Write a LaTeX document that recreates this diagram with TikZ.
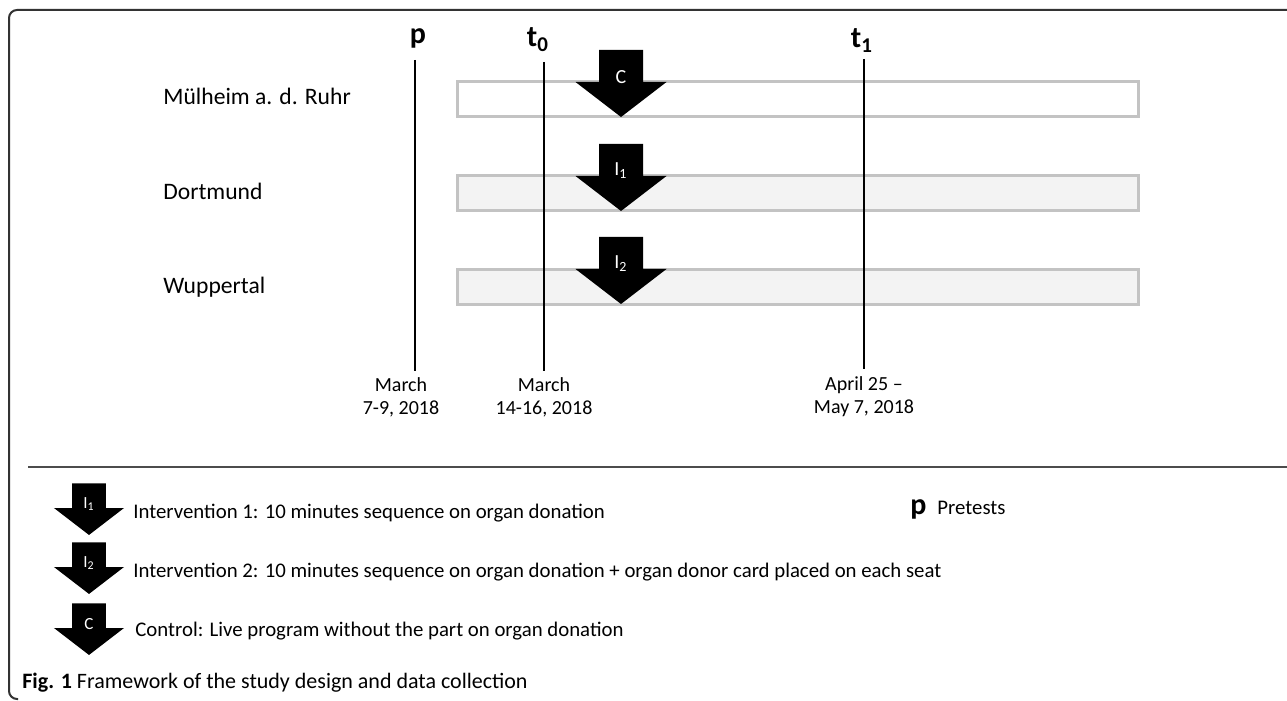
\documentclass[tikz,border=0pt]{standalone}
\usepackage{fontspec}
\setmainfont{Carlito}
\usepackage{xcolor}
\usepackage{tikz}
\usetikzlibrary{positioning}

\definecolor{barline}{HTML}{C3C3C3}
\definecolor{barfill}{HTML}{F3F3F3}
\definecolor{frameline}{HTML}{333333}

\begin{document}
\begin{tikzpicture}[x=0.5pt, y=-0.5pt,
  town/.style={anchor=base west, inner sep=0pt, font=\fontsize{11.8}{14}\selectfont},
  bar/.style={draw=barline, line width=1.5pt, minimum width=340.5pt,
    minimum height=17.5pt, inner sep=0pt},
  tick/.style={line width=0.6pt},
  tlbl/.style={anchor=base, inner sep=0pt, font=\fontsize{15}{18}\selectfont\bfseries},
  date/.style={align=center, inner sep=0pt, font=\fontsize{10}{11.5}\selectfont},
  arrlbl/.style={text=white, inner sep=0pt},
  legtxt/.style={anchor=base west, inner sep=0pt, font=\fontsize{10.4}{12}\selectfont},
  blockarr/.pic={
    \fill (-22,-32) -- (22,-32) -- (22,0) -- (45.5,0) -- (0,35) -- (-45.5,0) -- (-22,0) -- cycle;
    \node[arrlbl] (-lbl) at (0,-5) {\tikzpictext};
  }
]
\useasboundingbox (0,0) rectangle (1287,701);
% Frame
\draw[frameline, line width=1pt, rounded corners=4pt]
  (1287,10) -- (9,10) -- (9,699) -- (18,699);
% Towns and their bars
\node[town] (mh) at (163,105) {Mülheim a. d. Ruhr};
\node[town] (do) at (163,199) {Dortmund};
\node[town] (wu) at (163,293) {Wuppertal};
\node[bar, fill=white]   (barMH) at (797.5,99.5)  {};
\node[bar, fill=barfill] (barDO) at (797.5,193.5) {};
\node[bar, fill=barfill] (barWU) at (797.5,287)   {};
% Time points
\coordinate (pTop)  at (415,60); \coordinate (pBot)  at (415,371);
\coordinate (t0Top) at (544,62); \coordinate (t0Bot) at (544,371);
\coordinate (t1Top) at (864,59); \coordinate (t1Bot) at (864,369);
\draw[tick] (pTop) -- (pBot);
\draw[tick] (t0Top) -- (t0Bot);
\draw[tick] (t1Top) -- (t1Bot);
\node[tlbl] (lp)  at (418,44) {p};
\node[tlbl] (lt0) at (538,47) {t\textsubscript{0}};
\node[tlbl] (lt1) at (862,48) {t\textsubscript{1}};
\node[date] (dp)  at (401,397) {March\\7-9, 2018};
\node[date] (dt0) at (544,397) {March\\14-16, 2018};
\node[date] (dt1) at (864,397) {April 25 --\\May 7, 2018};
% Interventions
\pic[pic text=C, font=\fontsize{10}{12}\selectfont] (arrMH) at (621,82) {blockarr};
\pic[pic text={I\textsubscript{1}}, font=\fontsize{10}{12}\selectfont] (arrDO) at (621,176) {blockarr};
\pic[pic text={I\textsubscript{2}}, font=\fontsize{10}{12}\selectfont] (arrWU) at (621,269) {blockarr};
% Legend
\coordinate (sepL) at (28,467); \coordinate (sepR) at (1287,467);
\draw[gray!60!black, line width=0.8pt] (sepL) -- (sepR);
\pic[scale=0.77, pic text={I\textsubscript{1}}, font=\fontsize{8.5}{10}\selectfont] (legI1) at (89,508) {blockarr};
\pic[scale=0.77, pic text={I\textsubscript{2}}, font=\fontsize{8.5}{10}\selectfont] (legI2) at (89,567) {blockarr};
\pic[scale=0.77, pic text=C, font=\fontsize{8.5}{10}\selectfont] (legC) at (89,628) {blockarr};
\node[legtxt] (txI1) at (133,518) {Intervention 1: 10 minutes sequence on organ donation};
\node[legtxt] (txI2) at (133,577) {Intervention 2: 10 minutes sequence on organ donation + organ donor card placed on each seat};
\node[legtxt] (txC)  at (135,636) {Control: Live program without the part on organ donation};
\node[anchor=base west, inner sep=0pt, font=\fontsize{15}{18}\selectfont\bfseries] (legp) at (910,514) {p};
\node[legtxt] (txp) at (937,514) {Pretests};
% Caption
\node[anchor=base west, inner sep=0pt, font=\fontsize{11}{13}\selectfont] (cap) at (22,688)
  {\textbf{Fig. 1} Framework of the study design and data collection};
\end{tikzpicture}
\end{document}
